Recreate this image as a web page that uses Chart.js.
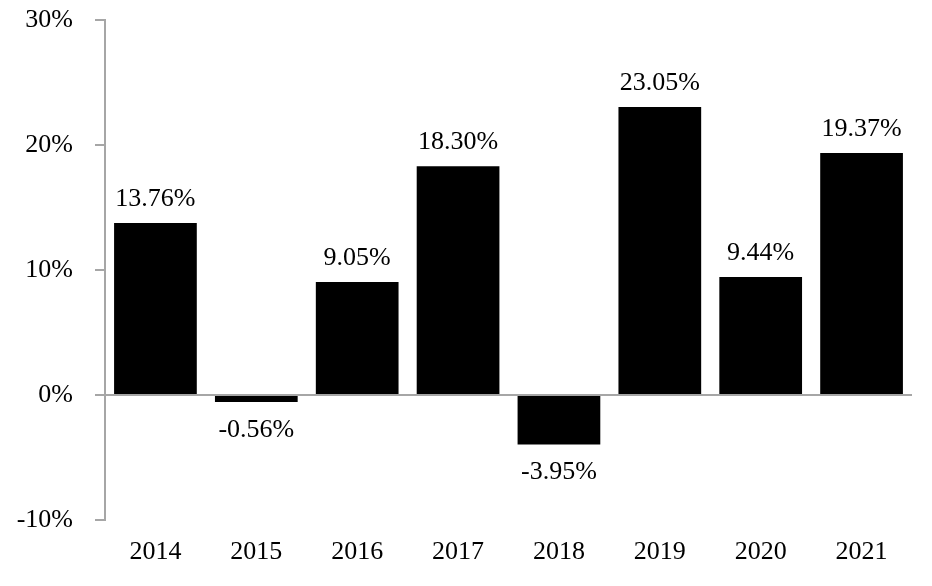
<!DOCTYPE html>
<html>
<head>
<meta charset="utf-8">
<script src="https://cdn.jsdelivr.net/npm/chart.js@4/dist/chart.umd.min.js"></script>
<style>
    html, body { margin: 0; padding: 0; background: #fff; }
    #wrap { width: 932px; height: 586px; }
</style>
</head>
<body>
<div id="wrap"><canvas id="chart" width="932" height="586"></canvas></div>
<script>
// 年次リターン
const years = ['2014', '2015', '2016', '2017', '2018', '2019', '2020', '2021'];
const returns = [13.76, -0.56, 9.05, 18.30, -3.95, 23.05, 9.44, 19.37];
const yTicks = [-10, 0, 10, 20, 30];

const FONT = 'Liberation Serif, Times New Roman, serif';
const AXIS_COLOR = '#a6a6a6';

// 棒の上下に値ラベルを描く
const valueLabels = {
    id: 'valueLabels',
    afterDatasetsDraw(chart) {
        const ctx = chart.ctx;
        const meta = chart.getDatasetMeta(0);
        ctx.save();
        ctx.font = '26px ' + FONT;
        ctx.fillStyle = '#000';
        ctx.textAlign = 'center';
        ctx.textBaseline = 'middle';
        meta.data.forEach((bar, i) => {
            const v = returns[i];
            const text = v.toFixed(2) + '%';
            const y = v >= 0 ? bar.y - 24 : bar.y + 28;
            ctx.fillText(text, bar.x, y);
        });
        ctx.restore();
    }
};

new Chart(document.getElementById('chart').getContext('2d'), {
    type: 'bar',
    data: {
        labels: years,
        datasets: [{
            data: returns,
            backgroundColor: '#000',
            borderWidth: 0,
            categoryPercentage: 1.0,
            barPercentage: 0.82
        }]
    },
    options: {
        responsive: false,
        animation: false,
        layout: {
            padding: { top: 20, right: 20, bottom: 0, left: 0 }
        },
        plugins: {
            legend: { display: false },
            tooltip: { enabled: false }
        },
        scales: {
            x: {
                position: 'bottom',
                grid: { display: false, drawTicks: false },
                border: { display: false },
                ticks: {
                    color: '#000',
                    padding: 17,
                    maxRotation: 0,
                    font: { family: FONT, size: 26 }
                },
                afterFit: function(scale) {
                    scale.height = 66;
                }
            },
            y: {
                min: -10,
                max: 30,
                afterBuildTicks: function(scale) {
                    scale.ticks = yTicks.map(v => ({ value: v }));
                },
                ticks: {
                    color: '#000',
                    padding: 22,
                    font: { family: FONT, size: 26 },
                    callback: function(value) {
                        return value + '%';
                    }
                },
                grid: {
                    drawOnChartArea: true,
                    color: function(c) {
                        return c.tick && c.tick.value === 0 ? AXIS_COLOR : 'rgba(0,0,0,0)';
                    },
                    tickColor: AXIS_COLOR,
                    tickLength: 10,
                    lineWidth: 2
                },
                border: { display: true, color: AXIS_COLOR, width: 2 },
                afterFit: function(scale) {
                    scale.width = 105;
                    scale.paddingTop = 0;
                    scale.paddingBottom = 0;
                }
            }
        }
    },
    plugins: [valueLabels]
});
</script>
</body>
</html>
